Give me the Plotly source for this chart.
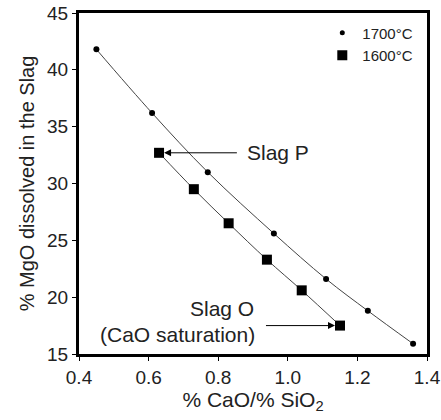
import plotly.graph_objects as go

x1700 = [0.45, 0.61, 0.77, 0.96, 1.11, 1.23, 1.36]
y1700 = [41.8, 36.2, 31.0, 25.6, 21.6, 18.8, 15.9]
x1600 = [0.63, 0.73, 0.83, 0.94, 1.04, 1.15]
y1600 = [32.7, 29.5, 26.5, 23.3, 20.6, 17.5]
xticks = [0.4, 0.6, 0.8, 1.0, 1.2, 1.4]
xticklabels = ["0.4", "0.6", "0.8", "1.0", "1.2", "1.4"]
yticks = [15, 20, 25, 30, 35, 40, 45]

font = "Liberation Sans, Arial, sans-serif"
fig = go.Figure()
fig.add_trace(go.Scatter(x=x1700, y=y1700, mode="lines+markers", showlegend=False,
                         line=dict(color="#444", width=1, shape="spline"),
                         marker=dict(symbol="circle", size=6, color="black")))
fig.add_trace(go.Scatter(x=x1600, y=y1600, mode="lines+markers", showlegend=False,
                         line=dict(color="#444", width=1, shape="spline"),
                         marker=dict(symbol="square", size=10, color="black")))
# legend entries (markers only)
fig.add_trace(go.Scatter(x=[None], y=[None], mode="markers", name="1700°C",
                         marker=dict(symbol="circle", size=5, color="black")))
fig.add_trace(go.Scatter(x=[None], y=[None], mode="markers", name="1600°C",
                         marker=dict(symbol="square", size=10, color="black")))

fig.add_annotation(x=x1600[0], y=y1600[0], ax=0.858, ay=y1600[0], axref="x", ayref="y",
                   xref="x", yref="y", text="", showarrow=True, arrowhead=2,
                   arrowsize=1.4, arrowwidth=1, arrowcolor="black", standoff=5)
fig.add_annotation(x=0.878, y=y1600[0], xref="x", yref="y", text="Slag P", showarrow=False,
                   xanchor="left", font=dict(family=font, size=21, color="#222"))
fig.add_annotation(x=x1600[-1], y=y1600[-1], ax=0.933, ay=y1600[-1], axref="x", ayref="y",
                   xref="x", yref="y", text="", showarrow=True, arrowhead=2,
                   arrowsize=1.4, arrowwidth=1, arrowcolor="black", standoff=5)
fig.add_annotation(x=0.812, y=18.97, xref="x", yref="y", text="Slag O", showarrow=False,
                   font=dict(family=font, size=21, color="#222"))
fig.add_annotation(x=0.684, y=16.68, xref="x", yref="y", text="(CaO saturation)", showarrow=False,
                   font=dict(family=font, size=21, color="#222"))

fig.update_layout(
    width=441, height=420, margin=dict(l=79, r=14, t=13, b=66),
    paper_bgcolor="white", plot_bgcolor="white",
    font=dict(family=font, size=19, color="#222"),
    showlegend=True,
    legend=dict(x=0.975, y=0.99, xanchor="right", yanchor="top", bgcolor="rgba(0,0,0,0)",
                font=dict(size=15), itemwidth=30, tracegroupgap=0),
    xaxis=dict(range=[0.4, 1.4], tickvals=xticks, ticktext=xticklabels, showgrid=False,
               zeroline=False, showline=True, linecolor="black", linewidth=3, mirror=True,
               ticks="outside", ticklen=4, tickcolor="black", automargin=False,
               title=dict(text="% CaO/% SiO<sub>2</sub>", font=dict(size=21), standoff=4)),
    yaxis=dict(range=[15, 45], tickvals=yticks, showgrid=False, zeroline=False,
               showline=True, linecolor="black", linewidth=3, mirror=True,
               ticks="outside", ticklen=4, tickcolor="black", automargin=False,
               title=dict(text="% MgO dissolved in the Slag", font=dict(size=20), standoff=8)),
)
fig.write_html("out.html")
